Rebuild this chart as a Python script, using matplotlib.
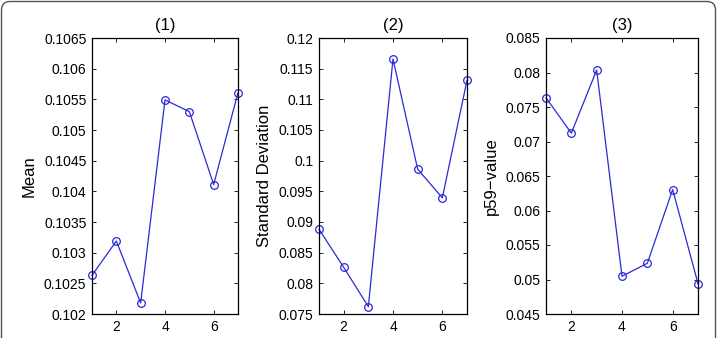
import matplotlib
matplotlib.use("Agg")
import matplotlib.pyplot as plt
from matplotlib.patches import FancyBboxPatch

plt.rcParams['font.family'] = ['Liberation Sans', 'DejaVu Sans']

x = [1, 2, 3, 4, 5, 6, 7]
mean_vals = [0.10263, 0.10319, 0.10218, 0.10549, 0.10530, 0.10411, 0.10561]
std_vals = [0.08882, 0.08262, 0.07620, 0.11657, 0.09862, 0.09394, 0.11309]
p59_vals = [0.07634, 0.07121, 0.08036, 0.05047, 0.05235, 0.06304, 0.04940]

titles = ["(1)", "(2)", "(3)"]
ylabels = ["Mean", "Standard Deviation", "p59\u2212value"]
ylims = [(0.102, 0.1065), (0.075, 0.12), (0.045, 0.085)]
yticks = [
    [0.102, 0.1025, 0.103, 0.1035, 0.104, 0.1045, 0.105, 0.1055, 0.106, 0.1065],
    [0.075, 0.08, 0.085, 0.09, 0.095, 0.1, 0.105, 0.11, 0.115, 0.12],
    [0.045, 0.05, 0.055, 0.06, 0.065, 0.07, 0.075, 0.08, 0.085],
]
yticklabels = [
    ["0.102", "0.1025", "0.103", "0.1035", "0.104", "0.1045", "0.105", "0.1055", "0.106", "0.1065"],
    ["0.075", "0.08", "0.085", "0.09", "0.095", "0.1", "0.105", "0.11", "0.115", "0.12"],
    ["0.045", "0.05", "0.055", "0.06", "0.065", "0.07", "0.075", "0.08", "0.085"],
]
xticks = [2, 4, 6]
series = [mean_vals, std_vals, p59_vals]

W, H = 717, 338
fig = plt.figure(figsize=(W / 100, H / 100), dpi=100)

# axes pixel boxes (left, right, top, bottom)
boxes = [(92, 238, 38, 314), (319, 467, 38, 314), (546, 698, 38, 314)]

border = FancyBboxPatch((1.5 / W, -0.1), (W - 3) / W, 1.1 - 1.5 / H,
                        boxstyle="round,pad=0,rounding_size=0.012",
                        transform=fig.transFigure, fill=False,
                        edgecolor="#555555", linewidth=1.0,
                        mutation_aspect=W / H)
fig.patches.append(border)

for i, (l, r, t, b) in enumerate(boxes):
    ax = fig.add_axes([l / W, 1 - b / H, (r - l) / W, (b - t) / H])
    ax.plot(x, series[i], color="#2a2ad8", linewidth=0.9, marker="o",
            markersize=5.5, markerfacecolor="none", markeredgecolor="#2a2ad8",
            markeredgewidth=0.9, clip_on=False)
    ax.set_xlim(1, 7)
    ax.set_ylim(*ylims[i])
    ax.set_xticks(xticks)
    ax.set_yticks(yticks[i])
    ax.set_yticklabels(yticklabels[i])
    ax.tick_params(direction="in", top=True, right=True, length=3,
                   width=0.6, labelsize=10, pad=4)
    for s in ax.spines.values():
        s.set_linewidth(0.9)
    ax.set_title(titles[i], fontsize=12, pad=6)
    ax.set_ylabel(ylabels[i], fontsize=12, labelpad=5)

fig.savefig("out.png", dpi=100)
